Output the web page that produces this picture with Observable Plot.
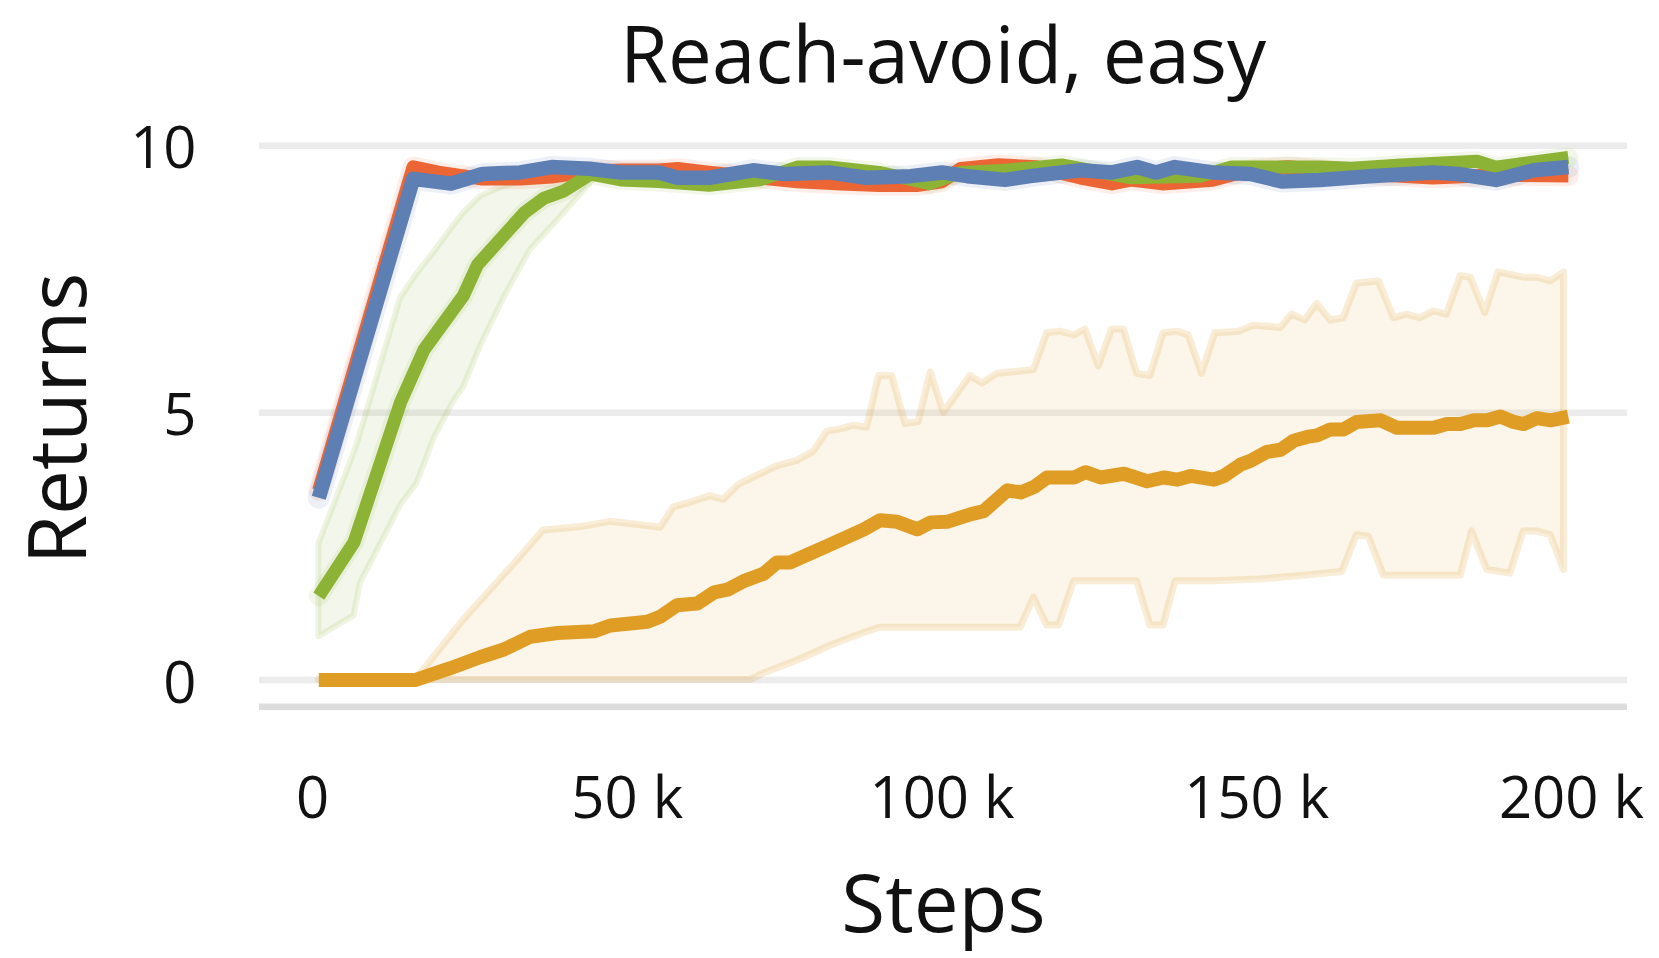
<!DOCTYPE html>
<html><head><meta charset="utf-8">
<script src="https://cdn.jsdelivr.net/npm/d3@7"></script>
<script src="https://cdn.jsdelivr.net/npm/@observablehq/plot@0.6"></script>
<style>
body{margin:0;background:#fff;font-family:"Open Sans",sans-serif;}
#title{width:1659px;height:96px;line-height:106px;font-size:78px;text-align:center;padding-left:227px;box-sizing:border-box;color:#111;white-space:nowrap;overflow:visible;}
</style></head><body>
<div id="title">Reach-avoid, easy</div>
<div id="chart"></div>
<script>
// Steps in thousands
const xTicks = [0, 50, 100, 150, 200];
const yTicks = [0, 5, 10];

const blueX = [1, 16, 22, 27, 33, 38, 44, 49, 55, 58, 63, 70, 75, 82, 88, 95, 100, 104, 110, 114, 122, 127, 131, 134, 137, 143, 149, 154, 160, 168, 178, 182, 188, 194, 199.5];
const blueY = [3.41, 9.38, 9.29, 9.47, 9.5, 9.6, 9.57, 9.5, 9.5, 9.4, 9.4, 9.54, 9.47, 9.5, 9.4, 9.43, 9.5, 9.43, 9.36, 9.43, 9.54, 9.5, 9.6, 9.5, 9.6, 9.5, 9.47, 9.33, 9.36, 9.43, 9.5, 9.47, 9.36, 9.54, 9.6];

const redX = [1, 16, 20, 27, 33, 38, 44, 49, 55, 58, 63, 71, 77, 84, 90, 96, 100, 103, 109, 115, 122, 127, 130, 135, 143, 149, 155, 160, 170, 178, 188, 199.5];
const redY = [3.55, 9.6, 9.5, 9.38, 9.38, 9.42, 9.52, 9.54, 9.54, 9.57, 9.5, 9.4, 9.33, 9.29, 9.26, 9.26, 9.33, 9.57, 9.64, 9.6, 9.4, 9.29, 9.36, 9.29, 9.36, 9.55, 9.6, 9.55, 9.45, 9.4, 9.45, 9.44];

const greenX = [1, 6.6, 14, 17.7, 24, 26.2, 33.6, 36.8, 39.9, 44.2, 49, 55, 63, 71, 77, 82, 90, 98, 103, 110, 119, 130, 141, 146, 160, 165, 173, 185, 188, 199.5];
const greenY = [1.57, 2.58, 5.2, 6.18, 7.2, 7.77, 8.74, 9.02, 9.15, 9.47, 9.36, 9.33, 9.26, 9.36, 9.6, 9.6, 9.5, 9.29, 9.5, 9.54, 9.64, 9.4, 9.43, 9.6, 9.6, 9.58, 9.64, 9.71, 9.6, 9.78];

const greenBandX  = [1, 6.6, 7.6, 14, 16.6, 19.3, 22.4, 24, 26.7, 30.4, 34.6, 38.9, 42.6, 45.2];
const greenBandHi = [2.54, 4.24, 4.6, 7.15, 7.6, 8.0, 8.5, 8.74, 9.05, 9.24, 9.38, 9.46, 9.5, 9.52];
const greenBandLo = [0.81, 1.2, 1.81, 3.27, 3.68, 4.52, 5.21, 5.48, 6.25, 7.15, 8.05, 8.6, 9.09, 9.45];

const orangeX = [1, 16.4, 21.9, 26.7, 30.4, 34.6, 38.9, 44.7, 47.3, 53.2, 55.3, 57.9, 61.1, 63.8, 65.9, 68.5, 71.7, 73.8, 75.9, 79.1, 81.8, 87.6, 90.2, 92.9, 96.1, 98.2, 100.8, 104.5, 106.6, 110.4, 112.5, 114.6, 116.7, 121, 122.8, 125.2, 128.9, 132.6, 135.2, 137.4, 139.5, 143.2, 144.8, 147.4, 149, 151.6, 153.8, 155.9, 158, 159.6, 161.7, 163.8, 165.9, 169.7, 172.3, 178.1, 180.2, 182.4, 184.5, 186.6, 188.7, 190.8, 192.4, 194.5, 196.7, 199.5];
const orangeY = [0, 0, 0.22, 0.43, 0.57, 0.81, 0.88, 0.91, 1.02, 1.09, 1.19, 1.4, 1.43, 1.64, 1.69, 1.85, 1.99, 2.2, 2.2, 2.37, 2.51, 2.82, 2.99, 2.96, 2.82, 2.95, 2.96, 3.1, 3.16, 3.55, 3.51, 3.61, 3.79, 3.79, 3.89, 3.79, 3.86, 3.72, 3.79, 3.75, 3.82, 3.75, 3.82, 4.03, 4.1, 4.27, 4.31, 4.48, 4.55, 4.58, 4.69, 4.69, 4.83, 4.86, 4.72, 4.72, 4.79, 4.79, 4.86, 4.86, 4.93, 4.83, 4.79, 4.9, 4.86, 4.93];

const orangeUpX = [1, 16.4, 24, 32.5, 36.7, 43.1, 47.3, 50.5, 55.3, 57.4, 60.6, 63.2, 65.3, 67.7, 70.1, 73.8, 77, 79.6, 81.8, 83.9, 86, 88.1, 90, 92.1, 94.2, 96.3, 98.2, 100.3, 104.5, 106.4, 108.8, 114.6, 116.7, 118.8, 121, 122.8, 124.9, 127, 128.9, 131, 133.1, 135.2, 137.4, 139.2, 141.3, 143.4, 147.2, 149.5, 153.8, 155.6, 157.7, 159.6, 161.7, 163.8, 165.9, 169.4, 171.8, 173.9, 176, 178.1, 180.2, 182.4, 184, 186.3, 188.4, 192.4, 194.5, 196.7, 198.8];
const orangeUpY = [0, 0, 1.12, 2.23, 2.8, 2.87, 2.96, 2.92, 2.85, 3.23, 3.34, 3.44, 3.37, 3.65, 3.79, 4.0, 4.1, 4.27, 4.65, 4.69, 4.76, 4.72, 5.69, 5.69, 4.79, 4.83, 5.76, 5.0, 5.69, 5.55, 5.73, 5.8, 6.49, 6.52, 6.45, 6.56, 5.87, 6.56, 6.56, 5.73, 5.69, 6.49, 6.52, 6.45, 5.73, 6.49, 6.52, 6.63, 6.59, 6.84, 6.73, 7.04, 6.73, 6.77, 7.42, 7.46, 6.77, 6.84, 6.77, 6.9, 6.84, 7.56, 7.53, 6.87, 7.63, 7.53, 7.53, 7.46, 7.63];

const orangeLoX = [1, 69.6, 71.7, 77, 82.3, 87.6, 90.2, 112.5, 114.6, 116.7, 118.6, 121, 131, 133.1, 135.2, 137.1, 143.2, 150.6, 154.3, 157.5, 163.6, 165.9, 167.8, 170.2, 182.4, 184.2, 186.6, 190.3, 192.4, 194.5, 196.7, 198.8];
const orangeLoY = [0, 0, 0.12, 0.36, 0.64, 0.88, 0.98, 0.98, 1.54, 1.02, 1.02, 1.85, 1.85, 1.02, 1.02, 1.85, 1.85, 1.88, 1.92, 1.95, 2.02, 2.71, 2.68, 1.95, 1.95, 2.78, 2.06, 1.99, 2.78, 2.78, 2.71, 2.06];

const colors = {red: "#ec6535", blue: "#5d7fb3", green: "#8cb236", orange: "#e09d26"};

const pts = (xs, ys) => xs.map((x, i) => ({x, y: ys[i]}));
// band polygon: upper edge forward, lower edge back (shorter edge padded by repeating its last point)
function band(loX, loY, hiX, hiY) {
  const n = Math.max(loX.length, hiX.length);
  return d3.range(n).map(i => {
    const a = Math.min(i, loX.length - 1), b = Math.min(i, hiX.length - 1);
    return {x1: loX[a], y1: loY[a], x2: hiX[b], y2: hiY[b]};
  });
}
const lineOpts = (c, w) => ({x: "x", y: "y", stroke: c, strokeWidth: w, strokeLinecap: "butt", strokeLinejoin: "round"});
const haloOpts = (c, w) => ({x: "x", y: "y", stroke: c, strokeWidth: w, strokeOpacity: 0.11, strokeLinejoin: "round"});

const W = 1659, H = 862;
const chart = Plot.plot({
  width: W, height: H,
  marginLeft: 259, marginRight: 32, marginTop: 22.5, marginBottom: 251.8,
  style: {fontFamily: "Open Sans", fontSize: "58px", color: "#111", background: "white", overflow: "visible"},
  x: {domain: [-8.42, 208.9]},
  y: {domain: [-0.5, 10.5]},
  marks: [
    Plot.ruleY(yTicks, {stroke: "#ececec", strokeWidth: 6.5}),
    Plot.ruleY([-0.5], {stroke: "#dddddd", strokeWidth: 6.5}),
    Plot.area(band(orangeLoX, orangeLoY, orangeUpX, orangeUpY), {x1: "x1", y1: "y1", x2: "x2", y2: "y2", fill: colors.orange, fillOpacity: 0.1, stroke: colors.orange, strokeOpacity: 0.18, strokeWidth: 7, strokeLinejoin: "round"}),
    Plot.area(band(greenBandX, greenBandLo, greenBandX, greenBandHi), {x1: "x1", y1: "y1", x2: "x2", y2: "y2", fill: colors.green, fillOpacity: 0.1, stroke: colors.green, strokeOpacity: 0.15, strokeWidth: 6, strokeLinejoin: "round"}),
    Plot.line(pts(redX, redY), haloOpts(colors.red, 21)),
    Plot.line(pts(greenX, greenY), haloOpts(colors.green, 20)),
    Plot.line(pts(blueX, blueY), haloOpts(colors.blue, 22)),
    Plot.line(pts(orangeX, orangeY), lineOpts(colors.orange, 14)),
    Plot.line(pts(redX, redY), lineOpts(colors.red, 13.5)),
    Plot.line(pts(greenX, greenY), lineOpts(colors.green, 13)),
    Plot.line(pts(blueX, blueY), lineOpts(colors.blue, 14.5)),
    Plot.axisX({ticks: xTicks, tickFormat: d => d === 0 ? "0" : d + " k", tickSize: 0, tickPadding: 70, fontSize: 58, fill: "#111", label: null}),
    Plot.axisY({ticks: yTicks, tickSize: 0, tickPadding: 63, dy: 4, fontSize: 58, fill: "#111", label: null}),
    Plot.text(["Returns"], {frameAnchor: "left", text: d => d, rotate: -90, dx: -199, dy: 5.6, fontSize: 80, fill: "#111", textAnchor: "middle"}),
    Plot.text(["Steps"], {frameAnchor: "bottom", text: d => d, dy: 225, fontSize: 80, fill: "#111", textAnchor: "middle"})
  ]
});
document.getElementById("chart").appendChild(chart);
</script></body></html>
